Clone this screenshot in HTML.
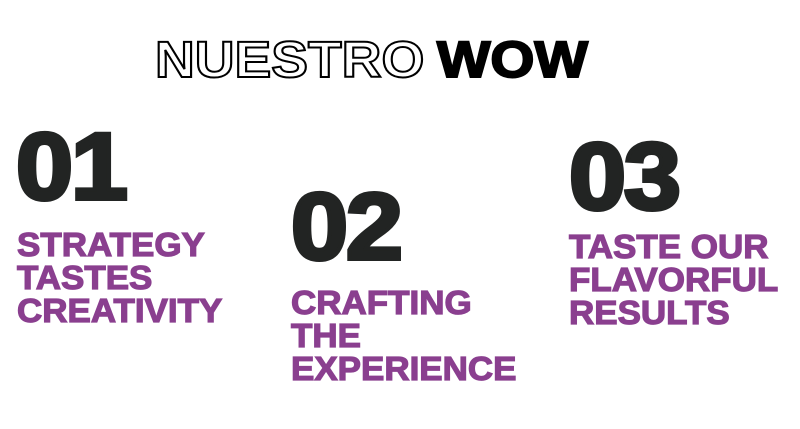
<!DOCTYPE html>
<html><head><style>
body{margin:0;width:800px;height:429px;background:#fff;position:relative;overflow:hidden;font-family:"Liberation Sans",sans-serif;font-weight:bold}
div{position:absolute;white-space:nowrap;transform-origin:0 0}
.t{font-size:51px;line-height:51px;top:34px}
.n{font-size:95px;line-height:95px;color:#222423;letter-spacing:-2px;-webkit-text-stroke:4px #222423;transform:scaleX(1.08)}
.p{font-size:33px;line-height:33px;color:#8a3f8f;-webkit-text-stroke:1.2px #8a3f8f;transform:scaleX(1.06)}
</style></head><body>
<div class="t" style="left:155px;color:#fff;-webkit-text-stroke:2px #000;transform:scaleX(1.08)">NUESTRO</div>
<div class="t" style="left:437px;color:#000;-webkit-text-stroke:2px #000;transform:scaleX(1.11)">WOW</div>
<div class="n" style="left:16px;top:120px">01</div>
<div class="p" style="left:17px;top:228px">STRATEGY<br>TASTES<br>CREATIVITY</div>
<div class="n" style="left:291px;top:180px">02</div>
<div class="p" style="left:291px;top:286px">CRAFTING<br>THE<br>EXPERIENCE</div>
<div class="n" style="left:569px;top:130px">03</div>
<div class="p" style="left:569px;top:230px">TASTE OUR<br>FLAVORFUL<br>RESULTS</div>
</body></html>
